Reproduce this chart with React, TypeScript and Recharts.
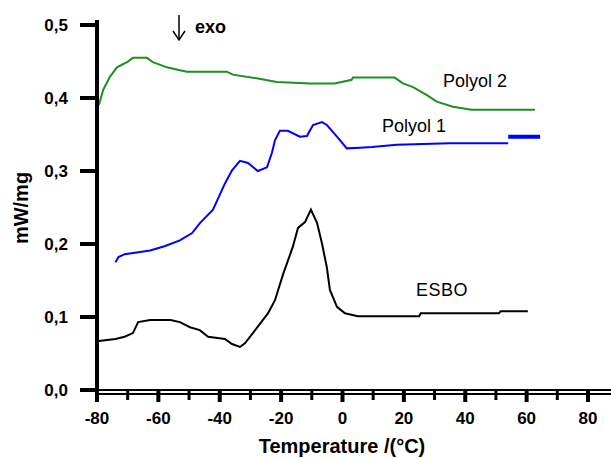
import { LineChart, Line, XAxis, YAxis, ReferenceLine } from 'recharts'

// [temperature °C, heat flow mW/mg]
const POLYOL_2 = [
  [-79.4, 0.39], [-78, 0.411], [-75.8, 0.429], [-73.5, 0.442], [-70.2, 0.449],
  [-68.3, 0.455], [-63.7, 0.455], [-61.8, 0.449], [-57.2, 0.442], [-53, 0.438],
  [-50.7, 0.436], [-37.7, 0.436], [-35.7, 0.432], [-28, 0.427], [-21.4, 0.422],
  [-10.6, 0.42], [-2.5, 0.42], [3, 0.425], [3.4, 0.428], [17, 0.428],
  [19.7, 0.42], [23, 0.415], [27.5, 0.404], [30.7, 0.395], [36, 0.388],
  [42, 0.384], [62.7, 0.384],
]

const POLYOL_1 = [
  [-74, 0.175], [-73, 0.182], [-71, 0.186], [-66, 0.189], [-62.7, 0.191],
  [-58, 0.197], [-53, 0.205], [-49, 0.215], [-46.4, 0.229], [-42.2, 0.247],
  [-38.3, 0.283], [-36, 0.301], [-33.4, 0.314], [-30.8, 0.311], [-27.6, 0.3],
  [-24.6, 0.305], [-23, 0.325], [-22, 0.342], [-20.4, 0.355], [-17.8, 0.355],
  [-13.9, 0.347], [-11.6, 0.348], [-9.6, 0.363], [-6.7, 0.367], [-5.1, 0.363],
  [-1.8, 0.347], [1.4, 0.331], [5.7, 0.332], [9.6, 0.333], [17.7, 0.336],
  [35, 0.338], [54, 0.338],
]

// last bit of the Polyol 1 trace is drawn heavier in the original
const POLYOL_1_TAIL = [[54, 0.347], [64.4, 0.347]]

const ESBO = [
  [-79.4, 0.067], [-74, 0.07], [-71, 0.073], [-68.3, 0.078], [-66.6, 0.093],
  [-62.7, 0.096], [-56, 0.096], [-53, 0.093], [-49.7, 0.086], [-46.5, 0.082],
  [-43.8, 0.073], [-38.3, 0.07], [-36, 0.063], [-33.4, 0.059], [-31.8, 0.064],
  [-29.2, 0.078], [-24.3, 0.105], [-22, 0.123], [-19.4, 0.158], [-16.2, 0.196],
  [-14.5, 0.222], [-12.2, 0.23], [-10.3, 0.247], [-8.3, 0.229], [-6.7, 0.201],
  [-5.1, 0.168], [-4.1, 0.137], [-1.8, 0.114], [0.8, 0.105], [5, 0.101],
  [25, 0.101], [25.5, 0.105], [51, 0.105], [51.5, 0.108], [60.4, 0.108],
]

const X_TICKS = [-80, -70, -60, -50, -40, -30, -20, -10, 0, 10, 20, 30, 40, 50, 60, 70, 80]
const X_LABELS = [-80, -60, -40, -20, 0, 20, 40, 60, 80]
const Y_TICKS = [0, 0.1, 0.2, 0.3, 0.4, 0.5]

const toPoints = (rows: number[][]) => rows.map(([t, v]) => ({ t, v }))

const FONT = 'Arial, "Liberation Sans", sans-serif'

const XTick = ({ x, y, payload }: any) => {
  const major = X_LABELS.includes(payload.value)
  return (
    <g>
      <line
        x1={x}
        x2={x}
        y1={y}
        y2={y + (major ? 12 : 10)}
        stroke="#000"
        strokeWidth={major ? 4 : 3}
      />
      {major && (
        <text x={x} y={y + 34} textAnchor="middle" fontFamily={FONT} fontWeight="bold" fontSize={17} fill="#000">
          {payload.value}
        </text>
      )}
    </g>
  )
}

const DoubleAxis = (p: any) => (
  <g>
    <line x1={p.x1} x2={p.x2 + 2} y1={p.y1} y2={p.y1} stroke="#000" strokeWidth={2} />
    <line x1={p.x1} x2={p.x2 + 2} y1={p.y1 + 4} y2={p.y1 + 4} stroke="#000" strokeWidth={2} />
  </g>
)

export default function App() {
  return (
    <div style={{ position: 'absolute', left: 0, top: 0, background: '#fff' }}>
      <LineChart width={611} height={459} margin={{ top: 25, right: 0, left: 0, bottom: 0 }}>
        <XAxis
          type="number"
          dataKey="t"
          domain={[-80, 87.5]}
          ticks={X_TICKS}
          interval={0}
          height={69}
          axisLine={false}
          tickLine={false}
          tickSize={0}
          tickMargin={0}
          tick={<XTick />}
          allowDataOverflow
        />
        <YAxis
          type="number"
          dataKey="v"
          domain={[0, 0.5]}
          ticks={Y_TICKS}
          width={97}
          axisLine={{ stroke: '#000', strokeWidth: 4 }}
          tickLine={{ stroke: '#000', strokeWidth: 4 }}
          tickSize={17}
          tickMargin={12}
          tickFormatter={(v: number) => v.toFixed(1).replace('.', ',')}
          tick={{ fill: '#000', fontSize: 17, fontWeight: 'bold', fontFamily: FONT }}
        />
        <ReferenceLine y={0} shape={DoubleAxis} ifOverflow="visible" />
        <ReferenceLine
          segment={[{ x: -80, y: -0.014 }, { x: -80, y: 0.507 }]}
          stroke="#000"
          strokeWidth={4}
          ifOverflow="visible"
        />
        <Line data={toPoints(POLYOL_2)} dataKey="v" stroke="#1f8f1f" strokeWidth={2} dot={false} isAnimationActive={false} />
        <Line data={toPoints(POLYOL_1)} dataKey="v" stroke="#0000ff" strokeWidth={2} dot={false} isAnimationActive={false} />
        <Line data={toPoints(POLYOL_1_TAIL)} dataKey="v" stroke="#0000ff" strokeWidth={4} dot={false} isAnimationActive={false} />
        <Line data={toPoints(ESBO)} dataKey="v" stroke="#000" strokeWidth={2} dot={false} isAnimationActive={false} />

        <text x={443} y={87} fontFamily={FONT} fontSize={18} fill="#000">Polyol 2</text>
        <text x={382} y={132} fontFamily={FONT} fontSize={18} fill="#000">Polyol 1</text>
        <text x={416} y={296} fontFamily={FONT} fontSize={18} letterSpacing={0.5} fill="#000">ESBO</text>
        <text x={195} y={33} fontFamily={FONT} fontSize={18} fontWeight="bold" fill="#000">exo</text>
        <g stroke="#000" strokeWidth={1.5} fill="none">
          <line x1={179} y1={15} x2={179} y2={40} />
          <polyline points="173,31 179,40 185,31" />
        </g>
        <text x={342} y={453} textAnchor="middle" fontFamily={FONT} fontSize={20} fontWeight="bold" fill="#000">
          Temperature /(°C)
        </text>
        <text
          x={28}
          y={208}
          transform="rotate(-90 28 208)"
          textAnchor="middle"
          fontFamily={FONT}
          fontSize={20}
          fontWeight="bold"
          fill="#000"
        >
          mW/mg
        </text>
      </LineChart>
    </div>
  )
}
